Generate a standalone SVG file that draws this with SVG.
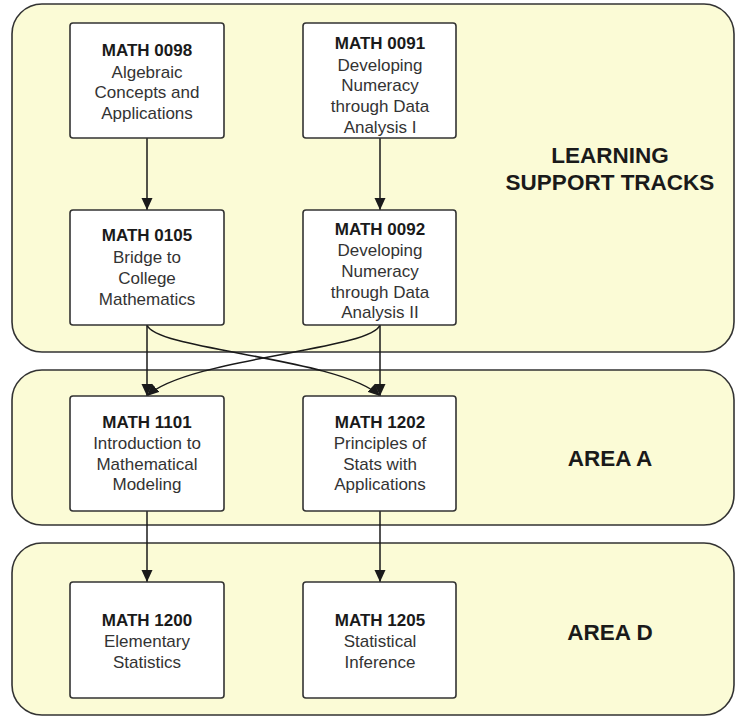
<svg xmlns="http://www.w3.org/2000/svg" width="735" height="717" viewBox="0 0 735 717">
  <style>
    .zone { fill: #fbfbd6; stroke: #333333; stroke-width: 1.6; }
    .box { fill: #ffffff; stroke: #333333; stroke-width: 1.6; }
    .t { font-family: "Liberation Sans", Arial, sans-serif; font-size: 17px; fill: #333333; text-anchor: middle; }
    .b { font-weight: bold; fill: #1a1a1a; }
    .zl { font-family: "Liberation Sans", Arial, sans-serif; font-size: 22.5px; font-weight: bold; fill: #1a1a1a; text-anchor: middle; }
    .edge { fill: none; stroke: #1a1a1a; stroke-width: 1.5; }
  </style>
  <defs>
    <marker id="arrow" viewBox="0 0 12 12" refX="12" refY="6" markerWidth="12" markerHeight="12" markerUnits="userSpaceOnUse" orient="auto">
      <path d="M0,0.5 L12,6 L0,11.5 Z" fill="#1a1a1a"/>
    </marker>
  </defs>
  <rect width="735" height="717" fill="#ffffff"/>

  <!-- swimlanes -->
  <g id="zone-learning-support">
    <rect class="zone" x="12" y="4" width="722" height="348" rx="30"/>
    <text class="zl" x="610" y="163">LEARNING</text>
    <text class="zl" x="610" y="190">SUPPORT TRACKS</text>
  </g>
  <g id="zone-area-a">
    <rect class="zone" x="12" y="370" width="722" height="155" rx="30"/>
    <text class="zl" x="610" y="466">AREA A</text>
  </g>
  <g id="zone-area-d">
    <rect class="zone" x="12" y="543" width="722" height="172" rx="30"/>
    <text class="zl" x="610" y="640">AREA D</text>
  </g>

  <!-- connectors -->
  <g id="connectors">
    <path class="edge" d="M147,138 L147,210" marker-end="url(#arrow)"/>
    <path class="edge" d="M380,138 L380,210" marker-end="url(#arrow)"/>
    <path class="edge" d="M147,325 L147,396" marker-end="url(#arrow)"/>
    <path class="edge" d="M380,325 L380,396" marker-end="url(#arrow)"/>
    <path class="edge" d="M147,325 C155,350 340,358 380,396" marker-end="url(#arrow)"/>
    <path class="edge" d="M380,325 C372,350 187,358 147,396" marker-end="url(#arrow)"/>
    <path class="edge" d="M147,511 L147,582" marker-end="url(#arrow)"/>
    <path class="edge" d="M380,511 L380,582" marker-end="url(#arrow)"/>
  </g>

  <!-- course nodes -->
  <g id="math0098">
    <rect class="box" x="70" y="23" width="154" height="115" rx="3"/>
    <text class="t b" x="147" y="56">MATH 0098</text>
    <text class="t" x="147" y="77.5">Algebraic</text>
    <text class="t" x="147" y="98">Concepts and</text>
    <text class="t" x="147" y="118.5">Applications</text>
  </g>
  <g id="math0091">
    <rect class="box" x="303" y="23" width="153" height="115" rx="3"/>
    <text class="t b" x="380" y="49">MATH 0091</text>
    <text class="t" x="380" y="70.5">Developing</text>
    <text class="t" x="380" y="91">Numeracy</text>
    <text class="t" x="380" y="112">through Data</text>
    <text class="t" x="380" y="133">Analysis I</text>
  </g>
  <g id="math0105">
    <rect class="box" x="70" y="210" width="154" height="115" rx="3"/>
    <text class="t b" x="147" y="241">MATH 0105</text>
    <text class="t" x="147" y="263">Bridge to</text>
    <text class="t" x="147" y="284">College</text>
    <text class="t" x="147" y="304.5">Mathematics</text>
  </g>
  <g id="math0092">
    <rect class="box" x="303" y="210" width="153" height="115" rx="3"/>
    <text class="t b" x="380" y="235">MATH 0092</text>
    <text class="t" x="380" y="256">Developing</text>
    <text class="t" x="380" y="277">Numeracy</text>
    <text class="t" x="380" y="297.5">through Data</text>
    <text class="t" x="380" y="318">Analysis II</text>
  </g>
  <g id="math1101">
    <rect class="box" x="70" y="396" width="154" height="115" rx="3"/>
    <text class="t b" x="147" y="428">MATH 1101</text>
    <text class="t" x="147" y="449">Introduction to</text>
    <text class="t" x="147" y="469.5">Mathematical</text>
    <text class="t" x="147" y="490">Modeling</text>
  </g>
  <g id="math1202">
    <rect class="box" x="303" y="396" width="153" height="115" rx="3"/>
    <text class="t b" x="380" y="428">MATH 1202</text>
    <text class="t" x="380" y="449">Principles of</text>
    <text class="t" x="380" y="469.5">Stats with</text>
    <text class="t" x="380" y="490">Applications</text>
  </g>
  <g id="math1200">
    <rect class="box" x="70" y="582" width="154" height="116" rx="3"/>
    <text class="t b" x="147" y="626">MATH 1200</text>
    <text class="t" x="147" y="647">Elementary</text>
    <text class="t" x="147" y="668">Statistics</text>
  </g>
  <g id="math1205">
    <rect class="box" x="303" y="582" width="153" height="116" rx="3"/>
    <text class="t b" x="380" y="626">MATH 1205</text>
    <text class="t" x="380" y="647">Statistical</text>
    <text class="t" x="380" y="668">Inference</text>
  </g>
</svg>
